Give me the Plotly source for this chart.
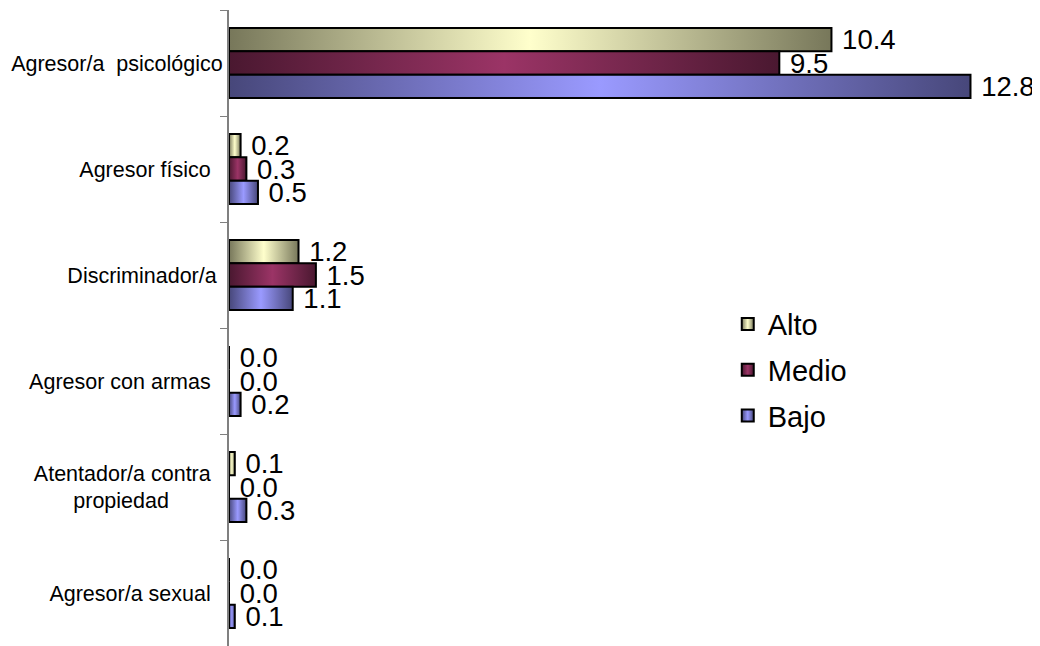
import plotly.graph_objects as go

categories = [
    "Agresor/a  psicológico",
    "Agresor físico\u00a0\u00a0",
    "Discriminador/a\u00a0",
    "Agresor con armas\u00a0\u00a0",
    "Atentador/a contra\u00a0\u00a0<br>propiedad" + "\u00a0" * 9,
    "Agresor/a sexual\u00a0\u00a0",
]
series_names = ["Alto", "Medio", "Bajo"]
alto = [10.4, 0.2, 1.2, 0.0, 0.1, 0.0]
medio = [9.5, 0.3, 1.5, 0.0, 0.0, 0.0]
bajo = [12.8, 0.5, 1.1, 0.2, 0.3, 0.1]
series_values = [alto, medio, bajo]
solid_colors = ["#e4e4b8", "#7e2a55", "#8080d8"]

FONT = "Arial, 'Liberation Sans', sans-serif"

fig = go.Figure()
for i, (name, vals, col) in enumerate(zip(series_names, series_values, solid_colors)):
    fig.add_trace(go.Bar(
        y=categories, x=vals, name=name, orientation="h",
        marker=dict(color=col, line=dict(color="black", width=2)),
        texttemplate="\u00a0%{x:.1f}", textposition="outside",
        textfont=dict(size=27.5, color="black", family=FONT),
        constraintext="none", cliponaxis=False,
        legendgroup=name,
    ))

# the page body keeps an 8px default margin, so the figure is 8px smaller
fig.update_layout(
    width=1032, height=638,
    margin=dict(l=221, r=0, t=2, b=0, autoexpand=False),
    paper_bgcolor="white", plot_bgcolor="white",
    barmode="group", bargap=0.34, bargroupgap=0,
    font=dict(family=FONT, color="black"),
    showlegend=True,
    legend=dict(x=0.615, y=0.546, xanchor="left", yanchor="top",
                font=dict(size=29, color="black", family=FONT),
                tracegroupgap=5, bgcolor="rgba(0,0,0,0)"),
    xaxis=dict(range=[0, 14], visible=False, showgrid=False, zeroline=False,
               automargin=False),
    yaxis=dict(
        categoryorder="array", categoryarray=categories, autorange="reversed",
        showline=True, linecolor="#808080", linewidth=2,
        ticks="outside", ticklen=7, tickcolor="#808080", tickwidth=1,
        tickson="boundaries", showgrid=False, zeroline=False,
        automargin=False,
        tickfont=dict(size=21.5, color="black", family=FONT),
    ),
)

post = """
var gd = document.getElementById('{plot_id}');
var stops = [['#77775a','#ffffcc'],['#4a1830','#9b3466'],['#47477a','#9a9aff']];
function applyGrad(){
  var svg = gd.querySelector('svg.main-svg');
  if(!svg) return;
  var defs = svg.querySelector('defs');
  var ns = 'http://www.w3.org/2000/svg';
  stops.forEach(function(s,i){
    var id = 'bargrad'+i;
    if(!document.getElementById(id)){
      var lg = document.createElementNS(ns,'linearGradient');
      lg.setAttribute('id',id);
      lg.setAttribute('x1','0'); lg.setAttribute('x2','1');
      lg.setAttribute('y1','0'); lg.setAttribute('y2','0');
      [[0,s[0]],[0.5,s[1]],[1,s[0]]].forEach(function(st){
        var e = document.createElementNS(ns,'stop');
        e.setAttribute('offset', st[0]);
        e.setAttribute('stop-color', st[1]);
        lg.appendChild(e);
      });
      defs.appendChild(lg);
    }
  });
  gd.querySelectorAll('.barlayer .trace').forEach(function(t,i){
    t.querySelectorAll('.point path').forEach(function(p){ p.style.fill = 'url(#bargrad'+i+')'; });
  });
  gd.querySelectorAll('.legend .traces').forEach(function(t,i){
    t.querySelectorAll('.legendpoints path').forEach(function(p){ p.style.fill = 'url(#bargrad'+i+')'; });
  });
}
applyGrad();
gd.on('plotly_afterplot', applyGrad);
"""

fig.write_html("out.html", post_script=post)
